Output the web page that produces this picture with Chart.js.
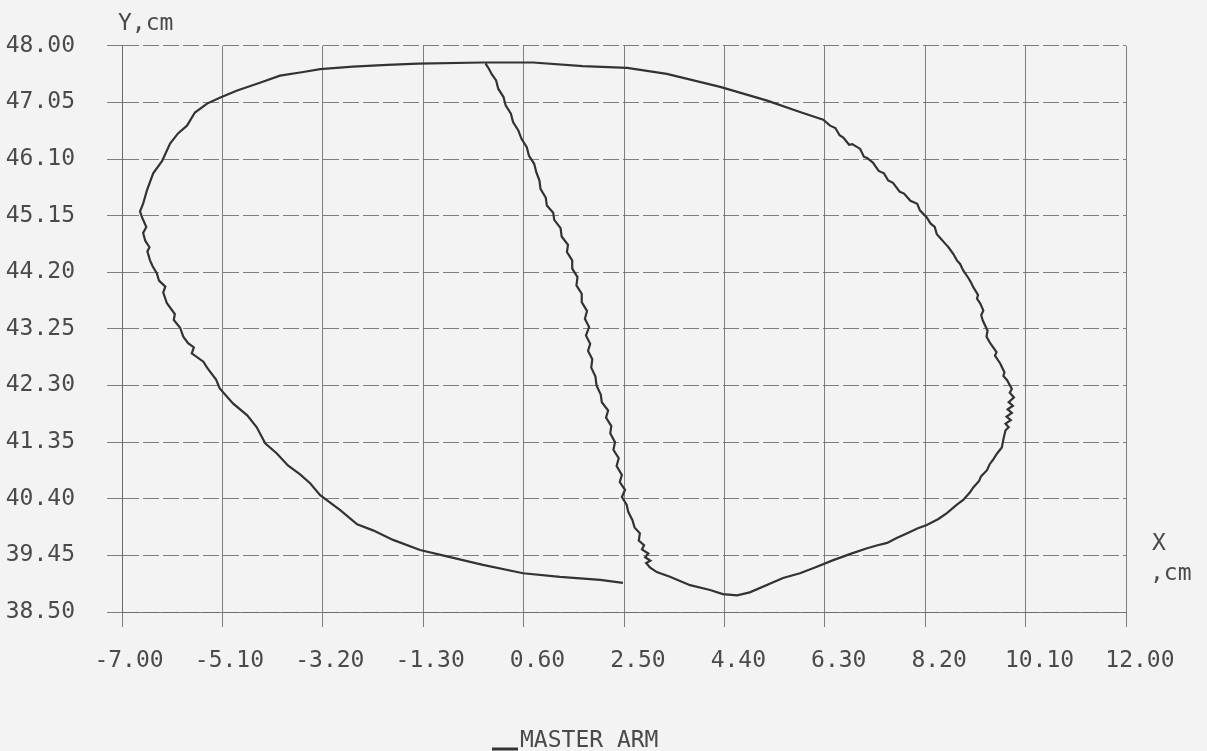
<!DOCTYPE html>
<html>
<head>
<meta charset="utf-8">
<title>Master arm trajectory</title>
<script src="https://cdn.jsdelivr.net/npm/chart.js@4.4.0/dist/chart.umd.min.js"></script>
<style>
  html, body { margin: 0; padding: 0; background: #f3f3f3; }
  #wrap { width: 1207px; height: 751px; }
</style>
</head>
<body>
<div id="wrap"><canvas id="trajectory" width="1207" height="751"></canvas></div>
<script>
// tick labels
const xTicks = [-7.00, -5.10, -3.20, -1.30, 0.60, 2.50, 4.40, 6.30, 8.20, 10.10, 12.00];
const yTicks = [38.50, 39.45, 40.40, 41.35, 42.30, 43.25, 44.20, 45.15, 46.10, 47.05, 48.00];

// outer loop: from the pen-down point, round the left side, over the top, down the right side
const loopX = [2.48, 2.05, 1.29, 0.59, -0.17, -0.93, -1.36, -1.87, -2.25, -2.55, -2.87, -3.25, -3.44, -3.63,
  -3.86, -4.07, -4.29, -4.45, -4.63, -4.90, -5.15, -5.22, -5.39, -5.46, -5.68, -5.64, -5.75, -5.84, -5.90,
  -6.02, -6.00, -6.15, -6.22, -6.18, -6.30, -6.34, -6.42, -6.47, -6.52, -6.48, -6.56, -6.60, -6.54, -6.62,
  -6.66, -6.60, -6.53, -6.41, -6.24, -6.09, -5.94, -5.77, -5.62, -5.39, -5.15, -4.82, -4.39, -4.01, -3.57,
  -3.25, -2.63, -1.98, -1.40, -0.17, 0.78, 1.72, 2.56, 3.31, 4.32, 5.21, 5.83, 6.27,
  6.40, 6.50, 6.58, 6.65, 6.76, 6.82, 6.97, 7.04, 7.10, 7.21, 7.32, 7.42, 7.50, 7.59, 7.72, 7.80, 7.92,
  8.05, 8.10, 8.23, 8.30, 8.38, 8.42, 8.48, 8.60, 8.64, 8.73, 8.80, 8.86, 8.92, 9.02, 9.06, 9.11, 9.20,
  9.18, 9.24, 9.30, 9.26, 9.29, 9.38, 9.36, 9.43, 9.55, 9.52, 9.62, 9.70, 9.68, 9.75, 9.84, 9.80, 9.88,
  9.78, 9.86, 9.76, 9.84, 9.74, 9.82, 9.72, 9.78, 9.72, 9.68, 9.65, 9.56, 9.48, 9.42, 9.37, 9.26, 9.22,
  9.11, 9.04, 8.92, 8.80, 8.61, 8.45, 8.23, 8.05, 7.86, 7.66, 7.48, 7.30, 7.10, 6.80, 6.46, 6.15, 5.83,
  5.51, 4.88, 4.64, 4.37, 4.13, 3.75, 3.37, 3.12, 2.99];
const loopY = [38.99, 39.04, 39.09, 39.15, 39.29, 39.45, 39.54, 39.71, 39.87, 39.97, 40.21, 40.46, 40.66, 40.81,
  40.96, 41.16, 41.33, 41.60, 41.80, 42.00, 42.25, 42.40, 42.60, 42.70, 42.84, 42.94, 43.01, 43.12, 43.27,
  43.40, 43.50, 43.68, 43.86, 43.96, 44.06, 44.18, 44.30, 44.40, 44.55, 44.62, 44.73, 44.86, 44.96, 45.12,
  45.22, 45.35, 45.57, 45.86, 46.07, 46.36, 46.53, 46.66, 46.88, 47.03, 47.13, 47.25, 47.38, 47.50, 47.56,
  47.61, 47.65, 47.68, 47.70, 47.72, 47.72, 47.66, 47.63, 47.53, 47.31, 47.08, 46.89, 46.76,
  46.66, 46.62, 46.50, 46.46, 46.34, 46.35, 46.27, 46.14, 46.12, 46.04, 45.90, 45.86, 45.74, 45.70, 45.55, 45.52, 45.40,
  45.35, 45.24, 45.12, 45.02, 44.96, 44.84, 44.78, 44.66, 44.62, 44.51, 44.40, 44.34, 44.23, 44.10, 44.04, 43.95, 43.82,
  43.76, 43.68, 43.56, 43.48, 43.39, 43.22, 43.12, 43.01, 42.86, 42.80, 42.67, 42.52, 42.46, 42.39, 42.24, 42.18, 42.10,
  42.02, 41.96, 41.90, 41.84, 41.78, 41.72, 41.66, 41.60, 41.55, 41.40, 41.26, 41.16, 41.05, 40.98, 40.88, 40.78, 40.70,
  40.59, 40.50, 40.38, 40.30, 40.16, 40.06, 39.96, 39.90, 39.82, 39.74, 39.66, 39.62, 39.57, 39.48, 39.37, 39.26, 39.15,
  39.07, 38.83, 38.78, 38.80, 38.87, 38.95, 39.09, 39.17, 39.25];

// inner stroke: shaky line from the bottom back up to the top
const strokeX = [2.92, 3.00, 2.90, 2.96, 2.84, 2.88, 2.78, 2.80, 2.70, 2.66, 2.58, 2.55, 2.46, 2.52, 2.42, 2.46,
  2.36, 2.40, 2.30, 2.33, 2.24, 2.26, 2.16, 2.20, 2.08, 2.06, 1.98, 1.96, 1.88, 1.90, 1.82, 1.86, 1.78, 1.84,
  1.76, 1.80, 1.70, 1.70, 1.60, 1.62, 1.52, 1.52, 1.42, 1.44, 1.32, 1.30, 1.18, 1.16, 1.04, 1.02, 0.92, 0.90,
  0.84, 0.80, 0.70, 0.66, 0.56, 0.50, 0.40, 0.36, 0.26, 0.22, 0.12, 0.08, 0.00, -0.06, -0.12];
const strokeY = [39.32, 39.36, 39.42, 39.48, 39.55, 39.62, 39.70, 39.82, 39.92, 40.04, 40.18, 40.30, 40.43, 40.55,
  40.68, 40.80, 40.95, 41.08, 41.22, 41.35, 41.50, 41.62, 41.76, 41.88, 42.02, 42.15, 42.30, 42.45, 42.60, 42.74,
  42.88, 43.00, 43.14, 43.28, 43.42, 43.55, 43.70, 43.84, 43.98, 44.12, 44.26, 44.40, 44.54, 44.66, 44.80, 44.94,
  45.08, 45.20, 45.32, 45.45, 45.60, 45.74, 45.88, 46.02, 46.16, 46.30, 46.44, 46.58, 46.72, 46.86, 47.00, 47.14,
  47.28, 47.42, 47.52, 47.62, 47.70];

const seriesName = 'MASTER ARM';

const INK = '#333333';
const TEXT = '#4a4a4a';
const GRID = 'rgba(105,105,105,0.85)';
const FONT = '"DejaVu Sans Mono", "Liberation Mono", monospace';

const pathX = loopX.concat(strokeX);
const pathY = loopY.concat(strokeY);
const points = pathX.map((x, i) => ({ x: x, y: pathY[i] }));

// paper background + hand lettered captions
const paper = {
  id: 'paper',
  beforeDraw(chart) {
    const c = chart.ctx;
    c.save();
    c.fillStyle = '#f3f3f3';
    c.fillRect(0, 0, chart.width, chart.height);
    c.restore();
  },
  afterDraw(chart) {
    const c = chart.ctx;
    const area = chart.chartArea;
    c.save();
    c.fillStyle = TEXT;
    c.font = '23px ' + FONT;
    c.textBaseline = 'alphabetic';
    c.textAlign = 'left';
    c.fillText('Y,cm', area.left - 4, 30);
    c.fillText('X', area.right + 26, 550);
    c.fillText(',cm', area.right + 24, 580);
    // legend
    c.fillText(seriesName, 520, 747);
    c.strokeStyle = INK;
    c.lineWidth = 3;
    c.beginPath();
    c.moveTo(492, 749);
    c.lineTo(518, 749);
    c.stroke();
    c.restore();
  }
};

const ctx = document.getElementById('trajectory').getContext('2d');
const chart = new Chart(ctx, {
  type: 'scatter',
  data: {
    datasets: [{
      label: seriesName,
      data: points,
      showLine: true,
      borderColor: INK,
      borderWidth: 2.2,
      pointRadius: 0,
      tension: 0,
      fill: false
    }]
  },
  options: {
    responsive: false,
    animation: false,
    layout: { padding: { left: 0, top: 45, right: 81, bottom: 0 } },
    plugins: {
      legend: { display: false },
      tooltip: { enabled: false }
    },
    scales: {
      x: {
        type: 'linear',
        min: -7,
        max: 12,
        afterBuildTicks: s => { s.ticks = xTicks.map(v => ({ value: v })); },
        afterFit: s => { s.height = 139; },
        grid: { color: GRID, lineWidth: 1, tickLength: 15 },
        border: { display: true, color: GRID },
        ticks: {
          padding: 20,
          labelOffset: 7,
          maxRotation: 0,
          autoSkip: false,
          color: TEXT,
          font: { family: FONT, size: 23 },
          callback: v => (v < 0 ? '' : ' ') + v.toFixed(2)
        }
      },
      y: {
        type: 'linear',
        min: 38.5,
        max: 48,
        afterBuildTicks: s => { s.ticks = yTicks.map(v => ({ value: v })); },
        afterFit: s => { s.width = 122; },
        grid: { color: GRID, lineWidth: 1, tickLength: 15 },
        border: { display: true, color: GRID, dash: [16, 4] },
        ticks: {
          padding: 32,
          autoSkip: false,
          color: TEXT,
          font: { family: FONT, size: 23 },
          callback: v => v.toFixed(2)
        }
      }
    }
  },
  plugins: [paper]
});
</script>
</body>
</html>
